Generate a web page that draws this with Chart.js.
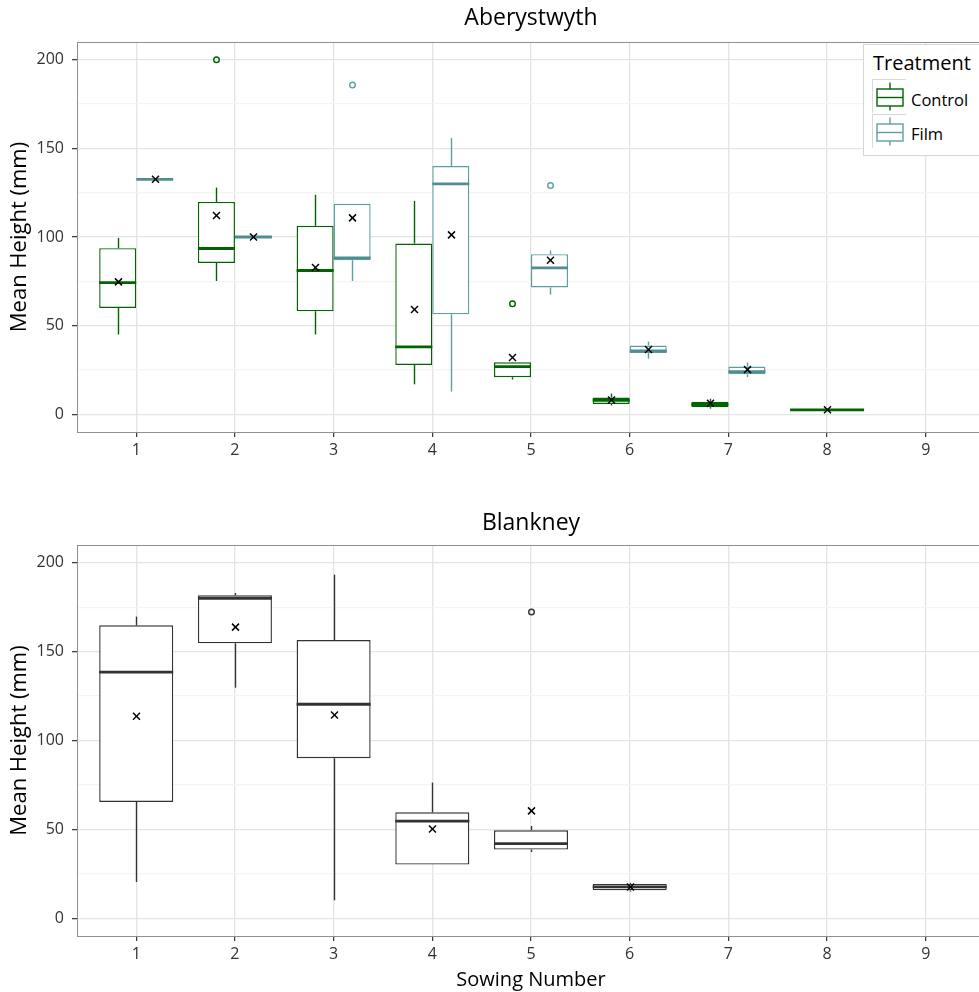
<!DOCTYPE html>
<html>
<head>
<meta charset="utf-8">
<title>Mean Height by Sowing Number</title>
<script src="https://cdn.jsdelivr.net/npm/chart.js@4.4.1/dist/chart.umd.min.js"></script>
<style>
  html, body { margin: 0; padding: 0; background: #fff; overflow: hidden; }
  #wrap { position: relative; width: 979px; height: 992px; overflow: hidden; font-family: "Open Sans", sans-serif; }
  #topChart { position: absolute; left: 0; top: 0; }
  #bottomChart { position: absolute; left: 0; top: 470px; }
  #legend { position: absolute; left: 863px; top: 44px; width: 140px; height: 110px; border: 1px solid #d6d6d6; background: #fff; }
  #legend .title { position: absolute; left: 9px; top: 6px; font-size: 20px; color: #000; line-height: 24px; }
  #legend .key { position: absolute; left: 8px; width: 34px; height: 34px; }
  #legend .lab { position: absolute; left: 47px; font-size: 16.5px; color: #000; line-height: 20px; }
</style>
</head>
<body>
<div id="wrap">
  <canvas id="topChart" width="985" height="470"></canvas>
  <canvas id="bottomChart" width="985" height="522"></canvas>
  <div id="legend">
    <div class="title">Treatment</div>
    <svg class="key" style="top:34px" width="36" height="35">
      <rect x="0.5" y="0.5" width="35" height="34" fill="#fff" stroke="#d9d9d9"/>
      <line x1="18" y1="3.5" x2="18" y2="10" stroke="#006400" stroke-width="1.4"/>
      <line x1="18" y1="27" x2="18" y2="31.5" stroke="#006400" stroke-width="1.4"/>
      <rect x="5" y="10" width="26" height="17" fill="#fff" stroke="#006400" stroke-width="1.4"/>
      <line x1="5" y1="18.5" x2="31" y2="18.5" stroke="#006400" stroke-width="1.4"/>
    </svg>
    <div class="lab" style="top:45px">Control</div>
    <svg class="key" style="top:69px" width="36" height="35">
      <rect x="0.5" y="0.5" width="35" height="34" fill="#fff" stroke="#d9d9d9"/>
      <line x1="18" y1="3.5" x2="18" y2="10" stroke="#5f9ea0" stroke-width="1.4"/>
      <line x1="18" y1="27" x2="18" y2="31.5" stroke="#5f9ea0" stroke-width="1.4"/>
      <rect x="5" y="10" width="26" height="17" fill="#fff" stroke="#5f9ea0" stroke-width="1.4"/>
      <line x1="5" y1="18.5" x2="31" y2="18.5" stroke="#5f9ea0" stroke-width="1.4"/>
    </svg>
    <div class="lab" style="top:79px">Film</div>
  </div>
</div>
<script>
// sowing numbers on the x axis
const sowings = [1, 2, 3, 4, 5, 6, 7, 8, 9];

// Aberystwyth - Control
const abCtrlLow  = [45, 75.2, 45, 16.9, 19.6, 5, 3.2, 2.5, null];
const abCtrlQ1   = [60, 85.4, 58.1, 27.8, 20.9, 5.8, 4, 2.5, null];
const abCtrlMed  = [74.3, 93.5, 81.1, 38, 26.9, 7.9, 5.5, 2.5, null];
const abCtrlQ3   = [93.7, 119.8, 106.3, 96.3, 29.3, 9.4, 7, 2.5, null];
const abCtrlHigh = [99.5, 127.9, 123.8, 120.4, 29.5, 11.7, 8.8, 2.5, null];
const abCtrlMean = [74.7, 112.1, 82.8, 59.1, 32, 8, 6.2, 2.5, null];
const abCtrlOut  = [[], [200], [], [], [62.3], [], [], [], []];

// Aberystwyth - Film
const abFilmLow  = [132.5, 100, 75.2, 12.8, 67.5, 31.4, 21, null, null];
const abFilmQ1   = [132.5, 100, 86.9, 56.4, 71.5, 34.6, 22.6, null, null];
const abFilmMed  = [132.5, 100, 88.2, 130, 82.6, 35.7, 24.1, null, null];
const abFilmQ3   = [132.5, 100, 118.7, 140, 90.3, 38.8, 26.9, null, null];
const abFilmHigh = [132.5, 100, 118.7, 155.8, 92.4, 41, 29.2, null, null];
const abFilmMean = [132.6, 100, 110.8, 101.2, 86.9, 36.5, 25.2, null, null];
const abFilmOut  = [[], [], [185.7], [], [129], [], [], [], []];

// Blankney
const blLow  = [20.4, 129.7, 10.1, 30.2, 37.3, 15, null, null, null];
const blQ1   = [65.4, 154.7, 90, 30.2, 38.6, 15.7, null, null, null];
const blMed  = [138.5, 180, 120.4, 54.6, 42, 17.6, null, null, null];
const blQ3   = [164.8, 181.7, 156.5, 59.6, 49.5, 19.3, null, null, null];
const blHigh = [169.7, 183, 193.3, 76.3, 51.9, 19.9, null, null, null];
const blMean = [113.6, 163.8, 114.4, 50.2, 60.4, 17.6, null, null, null];
const blOut  = [[], [], [], [], [172.3], [], [], [], []];

// y axis: labelled ticks and the faint minor grid lines between them
const yTicks = [0, 50, 100, 150, 200];
const yMinor = [25, 75, 125, 175];

const FONT = '"Open Sans", sans-serif';

// turns the quartiles into floating bars
function boxData(q1, q3) {
    return sowings.map((s, i) => ({x: s, y: q1[i] == null ? null : [q1[i], q3[i]]}));
}

function boxDataset(label, color, medColor, low, q1, med, q3, high, mean, out) {
    return {
        label: label,
        data: boxData(q1, q3),
        backgroundColor: '#ffffff',
        borderColor: color,
        borderWidth: 1.4,
        borderSkipped: false,
        medianColor: medColor,
        stats: {low: low, q1: q1, med: med, q3: q3, high: high, mean: mean, out: out}
    };
}

// whiskers, medians, means and outliers drawn on top of the bars
const boxExtras = {
    id: 'boxExtras',
    afterDatasetsDraw(chart) {
        const ctx = chart.ctx;
        const y = chart.scales.y;
        const a = chart.chartArea;
        ctx.save();
        ctx.beginPath();
        ctx.rect(a.left, a.top, a.right - a.left, a.bottom - a.top);
        ctx.clip();
        function line(x1, y1, x2, y2) {
            ctx.beginPath();
            ctx.moveTo(x1, y1);
            ctx.lineTo(x2, y2);
            ctx.stroke();
        }
        chart.data.datasets.forEach((ds, di) => {
            const st = ds.stats;
            const meta = chart.getDatasetMeta(di);
            meta.data.forEach((bar, i) => {
                if (st.q1[i] == null) return;
                const p = bar.getProps(['x', 'width'], true);
                const x = Math.round(p.x) + 0.5;
                ctx.strokeStyle = ds.borderColor;
                ctx.lineWidth = 1.4;
                if (st.high[i] > st.q3[i]) line(x, y.getPixelForValue(st.high[i]), x, y.getPixelForValue(st.q3[i]));
                if (st.low[i] < st.q1[i]) line(x, y.getPixelForValue(st.low[i]), x, y.getPixelForValue(st.q1[i]));
                // outliers
                st.out[i].forEach(v => {
                    ctx.beginPath();
                    ctx.arc(x, y.getPixelForValue(v), 2.8, 0, Math.PI * 2);
                    ctx.stroke();
                });
                // median
                ctx.strokeStyle = ds.medianColor;
                ctx.lineWidth = 2.8;
                const ym = y.getPixelForValue(st.med[i]);
                line(p.x - p.width / 2, ym, p.x + p.width / 2, ym);
                // mean
                const yc = y.getPixelForValue(st.mean[i]);
                ctx.strokeStyle = '#000';
                ctx.lineWidth = 1.5;
                line(x - 3.5, yc - 3.5, x + 3.5, yc + 3.5);
                line(x - 3.5, yc + 3.5, x + 3.5, yc - 3.5);
            });
        });
        ctx.restore();
    },
    afterDraw(chart) {
        const ctx = chart.ctx;
        const a = chart.chartArea;
        ctx.save();
        ctx.strokeStyle = '#8f8f8f';
        ctx.lineWidth = 1;
        ctx.strokeRect(Math.round(a.left) + 0.5, Math.round(a.top) + 0.5, a.right - a.left, Math.round(a.bottom - a.top));
        ctx.restore();
    }
};

function makeOptions(title, xHeight, titlePad, xTitle) {
    return {
        responsive: false,
        animation: false,
        events: [],
        layout: {padding: 0},
        datasets: {
            bar: {grouped: true, skipNull: true, categoryPercentage: 0.75, barPercentage: 1}
        },
        plugins: {
            legend: {display: false},
            tooltip: {enabled: false},
            title: {
                display: true,
                text: title,
                fullSize: false,
                color: '#000',
                font: {family: FONT, size: 23, weight: 'normal', lineHeight: 1.2},
                padding: titlePad
            }
        },
        scales: {
            x: {
                type: 'linear',
                min: 0.4,
                max: 9.6,
                offset: false,
                bounds: 'data',
                afterBuildTicks: (s) => { s.ticks = sowings.map(v => ({value: v})); },
                afterFit: (s) => { s.height = xHeight; },
                border: {display: false},
                grid: {offset: false, color: '#e4e4e4', lineWidth: 1.3, tickLength: 5, tickColor: '#333', tickWidth: 1.2},
                ticks: {
                    padding: 4,
                    color: '#333',
                    font: {family: FONT, size: 16},
                    maxRotation: 0,
                    autoSkip: false
                },
                title: {
                    display: !!xTitle,
                    text: xTitle || '',
                    color: '#000',
                    font: {family: FONT, size: 20, lineHeight: 1.2},
                    padding: {top: 0, bottom: 0}
                }
            },
            y: {
                type: 'linear',
                min: -10,
                max: 210,
                bounds: 'data',
                afterBuildTicks: (s) => { s.ticks = yTicks.concat(yMinor).sort((a, b) => a - b).map(v => ({value: v})); },
                afterFit: (s) => { s.width = 77; },
                border: {display: false},
                grid: {
                    color: (c) => yTicks.includes(c.tick.value) ? '#e4e4e4' : '#f4f4f4',
                    tickColor: (c) => yTicks.includes(c.tick.value) ? '#333' : 'rgba(0,0,0,0)',
                    lineWidth: 1.3,
                    tickWidth: 1.2,
                    tickLength: 5
                },
                ticks: {
                    padding: 8,
                    color: '#333',
                    font: {family: FONT, size: 16},
                    autoSkip: false,
                    callback: (v) => yTicks.includes(v) ? String(v) : ''
                },
                title: {
                    display: true,
                    text: 'Mean Height (mm)',
                    color: '#000',
                    font: {family: FONT, size: 22, lineHeight: 1.2},
                    padding: {top: 7, bottom: 0}
                }
            }
        }
    };
}

// Aberystwyth chart
new Chart(document.getElementById('topChart'), {
    type: 'bar',
    data: {
        datasets: [
            boxDataset('Control', '#006400', '#006400', abCtrlLow, abCtrlQ1, abCtrlMed, abCtrlQ3, abCtrlHigh, abCtrlMean, abCtrlOut),
            boxDataset('Film', '#5f9ea0', '#4f8e90', abFilmLow, abFilmQ1, abFilmMed, abFilmQ3, abFilmHigh, abFilmMean, abFilmOut)
        ]
    },
    options: makeOptions('Aberystwyth', 38, {top: 5, bottom: 9.4}, null),
    plugins: [boxExtras]
});

// Blankney chart
new Chart(document.getElementById('bottomChart'), {
    type: 'bar',
    data: {
        datasets: [
            boxDataset('Blankney', '#333333', '#333333', blLow, blQ1, blMed, blQ3, blHigh, blMean, blOut)
        ]
    },
    options: makeOptions('Blankney', 56, {top: 40, bottom: 7.4}, 'Sowing Number'),
    plugins: [boxExtras]
});
</script>
</body>
</html>
